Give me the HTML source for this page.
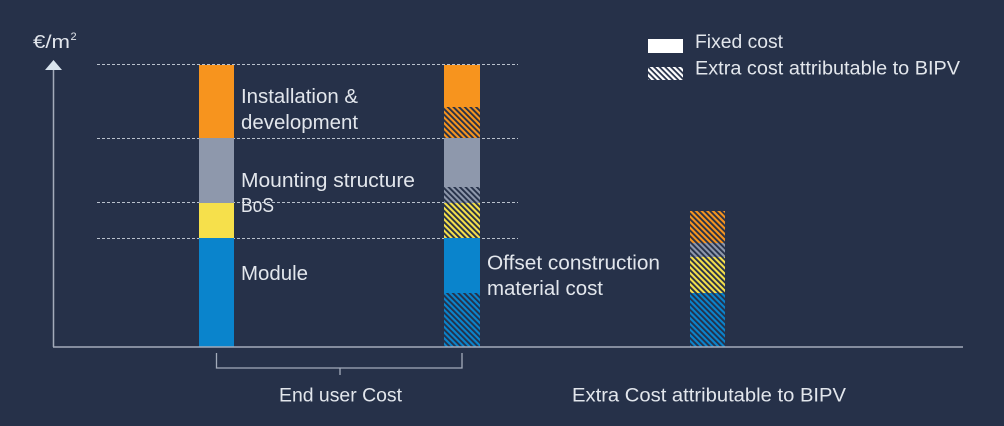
<!DOCTYPE html>
<html><head><meta charset="utf-8"><style>
html,body{margin:0;padding:0;background:#263149;}
svg{display:block;}
text{font-family:"Liberation Sans",sans-serif;fill:#e2e6ec;}
</style></head><body>
<svg width="1004" height="426" viewBox="0 0 1004 426" xmlns="http://www.w3.org/2000/svg">
<defs>
<pattern id="h" patternUnits="userSpaceOnUse" width="4" height="4" patternTransform="rotate(-45)">
<rect x="0" y="0" width="1.9" height="4" fill="#263149"/>
</pattern>
<pattern id="hw" patternUnits="userSpaceOnUse" width="4" height="4" patternTransform="rotate(-45)">
<rect x="0" y="0" width="4" height="4" fill="#263149"/>
<rect x="0" y="0" width="2.2" height="4" fill="#ffffff"/>
</pattern>
</defs>
<rect width="1004" height="426" fill="#263149"/>

<!-- dashed guides -->
<g stroke="#b9c1cd" stroke-width="1" stroke-dasharray="3,2">
<line x1="97" y1="64.5" x2="518" y2="64.5"/>
<line x1="97" y1="138.5" x2="518" y2="138.5"/>
<line x1="97" y1="202.5" x2="518" y2="202.5"/>
<line x1="97" y1="238.5" x2="518" y2="238.5"/>
</g>

<!-- bar 1 -->
<rect x="199" y="65" width="35" height="73" fill="#f7941e"/>
<rect x="199" y="138" width="35" height="65" fill="#8e98ac"/>
<rect x="199" y="203" width="35" height="35" fill="#f6e04b"/>
<rect x="199" y="238" width="35" height="109" fill="#0a84cc"/>

<!-- bar 2 -->
<rect x="444" y="65" width="36" height="42" fill="#f7941e"/>
<rect x="444" y="107" width="36" height="31" fill="#f7941e"/>
<rect x="444" y="107" width="36" height="31" fill="url(#h)"/>
<rect x="444" y="138" width="36" height="49" fill="#8e98ac"/>
<rect x="444" y="187" width="36" height="16" fill="#8e98ac"/>
<rect x="444" y="187" width="36" height="16" fill="url(#h)"/>
<rect x="444" y="203" width="36" height="35" fill="#f6e04b"/>
<rect x="444" y="203" width="36" height="35" fill="url(#h)"/>
<rect x="444" y="238" width="36" height="55" fill="#0a84cc"/>
<rect x="444" y="293" width="36" height="54" fill="#0a84cc"/>
<rect x="444" y="293" width="36" height="54" fill="url(#h)"/>

<!-- bar 3 -->
<rect x="690" y="211" width="35" height="32" fill="#f7941e"/>
<rect x="690" y="243" width="35" height="14" fill="#8e98ac"/>
<rect x="690" y="257" width="35" height="36" fill="#f6e04b"/>
<rect x="690" y="293" width="35" height="54" fill="#0a84cc"/>
<rect x="690" y="211" width="35" height="136" fill="url(#h)"/>

<!-- axes -->
<line x1="53.5" y1="69" x2="53.5" y2="347" stroke="#a3abba" stroke-width="1.5"/>
<polygon points="53.5,60 45,70 62,70" fill="#d9e4ee"/>
<line x1="53" y1="347" x2="963" y2="347" stroke="#a3abba" stroke-width="1.5"/>

<!-- bracket -->
<g stroke="#a3abba" stroke-width="1.3" fill="none">
<polyline points="216.5,353 216.5,368 462,368 462,353"/>
<line x1="340" y1="368" x2="340" y2="375"/>
</g>

<!-- y label -->
<text x="33" y="48" font-size="18" textLength="37" lengthAdjust="spacingAndGlyphs">€/m</text>
<text x="70.5" y="40" font-size="11">2</text>

<!-- bar labels -->
<text x="241" y="103" font-size="20" textLength="117" lengthAdjust="spacingAndGlyphs">Installation &amp;</text>
<text x="241" y="129" font-size="20" textLength="117" lengthAdjust="spacingAndGlyphs">development</text>
<text x="241" y="187" font-size="20" textLength="174" lengthAdjust="spacingAndGlyphs">Mounting structure</text>
<text x="241" y="212" font-size="20" textLength="33" lengthAdjust="spacingAndGlyphs">BoS</text>
<text x="241" y="280" font-size="20" textLength="67" lengthAdjust="spacingAndGlyphs">Module</text>
<text x="487" y="269.5" font-size="20" textLength="173" lengthAdjust="spacingAndGlyphs">Offset construction</text>
<text x="487" y="295" font-size="20" textLength="116" lengthAdjust="spacingAndGlyphs">material cost</text>

<!-- category labels -->
<text x="279" y="401.5" font-size="19" textLength="123" lengthAdjust="spacingAndGlyphs">End user Cost</text>
<text x="572" y="401.5" font-size="19" textLength="274" lengthAdjust="spacingAndGlyphs">Extra Cost attributable to BIPV</text>

<!-- legend -->
<rect x="648" y="39" width="35" height="14" fill="#ffffff"/>
<rect x="648" y="67" width="35" height="13" fill="url(#hw)"/>
<text x="695" y="48" font-size="19" textLength="88" lengthAdjust="spacingAndGlyphs">Fixed cost</text>
<text x="695" y="74.5" font-size="19" textLength="265" lengthAdjust="spacingAndGlyphs">Extra cost attributable to BIPV</text>
</svg>
</body></html>
